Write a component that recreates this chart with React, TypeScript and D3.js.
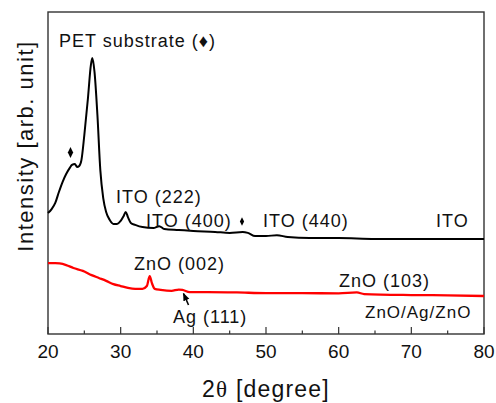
import React from 'react';
import * as d3 from 'd3';

// XRD patterns (2theta in degrees, intensity in arb. units 0-100)
const itoAngles = [20, 20.5, 21, 21.5, 22, 22.5, 23, 23.3, 23.7, 24, 24.3, 24.6, 25, 25.5, 25.9, 26.1, 26.4, 26.8, 27.2, 27.6, 28, 28.5, 29, 29.5, 30, 30.4, 30.7, 31, 31.4, 32, 33, 34.5, 35.3, 36, 38, 40, 43, 45, 46.8, 47.5, 48.5, 50, 51.5, 53, 56, 60, 65, 70, 75, 80];
const itoIntensity = [37.6, 38.8, 40.7, 44.1, 47.2, 49.7, 51.6, 52.5, 52.8, 51.9, 52.2, 54.0, 61.8, 73.3, 83.5, 85.7, 81.4, 68.0, 50.9, 42.2, 37.9, 35.4, 34.2, 34.2, 35.1, 36.6, 37.9, 36.3, 34.5, 33.9, 33.2, 32.9, 33.5, 32.6, 32.3, 32.0, 31.7, 31.4, 31.7, 31.4, 30.4, 30.4, 30.7, 30.1, 29.8, 29.8, 29.5, 29.5, 29.5, 29.5];

const zaoAngles = [20, 21, 21.6, 22.5, 23.5, 24.8, 26, 27, 28, 29, 30, 31, 32, 33, 33.6, 34.0, 34.3, 34.7, 35.5, 37, 38, 38.5, 39.5, 42, 46, 50, 55, 60, 62.5, 63.5, 70, 75, 80];
const zaoIntensity = [22.0, 22.0, 21.9, 21.4, 20.5, 19.6, 18.3, 17.4, 16.5, 15.5, 14.9, 14.3, 14.0, 14.0, 14.9, 18.0, 15.8, 14.0, 13.7, 13.4, 13.8, 13.7, 13.0, 13.0, 12.9, 12.7, 12.7, 12.6, 12.9, 12.4, 12.1, 12.0, 11.8];

const majorTicks = [20, 30, 40, 50, 60, 70, 80];
const minorTicks = [25, 35, 45, 55, 65, 75];

const W = 496;
const H = 403;
const margin = { left: 48, right: 12, top: 12, bottom: 69 };
const font = 'Arial, "Liberation Sans", Helvetica, sans-serif';

const App = () => {
  const x = d3.scaleLinear().domain([20, 80]).range([margin.left, W - margin.right]);
  const y = d3.scaleLinear().domain([0, 100]).range([H - margin.bottom, margin.top]);

  const line = d3.line<[number, number]>()
    .x(d => x(d[0]))
    .y(d => y(d[1]))
    .curve(d3.curveMonotoneX);

  const ito = itoAngles.map((a, i) => [a, itoIntensity[i]] as [number, number]);
  const zao = zaoAngles.map((a, i) => [a, zaoIntensity[i]] as [number, number]);

  const bottom = H - margin.bottom;
  const diamond = d3.symbol().type(d3.symbolDiamond);

  return (
    <svg width={W} height={H} style={{ position: 'absolute', left: 0, top: 0, background: '#fff' }}>
      <defs>
        <marker id="arrow" viewBox="0 0 10 10" refX="9" refY="5" markerWidth="5" markerHeight="5" orient="auto">
          <path d="M0,1 L10,5 L0,9 z" fill="#000" />
        </marker>
      </defs>

      {/* frame */}
      <rect x={margin.left} y={margin.top} width={W - margin.left - margin.right} height={bottom - margin.top}
        fill="none" stroke="#333" strokeWidth={1.4} />

      {/* inward ticks on bottom axis */}
      {majorTicks.map(t => (
        <line key={'M' + t} x1={x(t)} x2={x(t)} y1={bottom} y2={bottom - 7} stroke="#333" strokeWidth={1.2} />
      ))}
      {minorTicks.map(t => (
        <line key={'m' + t} x1={x(t)} x2={x(t)} y1={bottom} y2={bottom - 3.5} stroke="#333" strokeWidth={1.2} />
      ))}
      {majorTicks.map(t => (
        <text key={'l' + t} x={x(t)} y={358} textAnchor="middle" fontFamily={font} fontSize={19} fill="#111">{t}</text>
      ))}

      {/* curves */}
      <path d={line(ito) || ''} fill="none" stroke="#000" strokeWidth={2} />
      <path d={line(zao) || ''} fill="none" stroke="#ff0000" strokeWidth={2.3} />

      {/* annotations */}
      <g fontFamily={font} fontSize={18} fill="#111" letterSpacing={1}>
        <text x={59} y={47}>PET substrate (♦)</text>
        <text x={116} y={203}>ITO (222)</text>
        <text x={146} y={227}>ITO (400)</text>
        <text x={263} y={227}>ITO (440)</text>
        <text x={436} y={227}>ITO</text>
        <text x={134} y={270}>ZnO (002)</text>
        <text x={173} y={323}>Ag (111)</text>
        <text x={339} y={287}>ZnO (103)</text>
        <text x={365} y={318} fontSize={17}>ZnO/Ag/ZnO</text>
      </g>
      <path d={d3.symbol().type(d3.symbolDiamond).size(34)() || ''} transform="translate(70.5,152.5) scale(0.85,1)" fill="#000" />
      <path d={diamond.size(22)() || ''} transform="translate(242,221.5) scale(0.85,1)" fill="#000" />
      <line x1={188.5} y1={305} x2={183.5} y2={293.5} stroke="#000" strokeWidth={1.6} markerEnd="url(#arrow)" />

      {/* axis titles */}
      <text x={(margin.left + W - margin.right) / 2} y={397} textAnchor="middle" fontFamily={font} fontSize={23} fill="#111" letterSpacing={1.2}>
        2<tspan fontFamily='"Liberation Serif", "Times New Roman", serif'>θ</tspan> [degree]
      </text>
      <text transform="translate(33,146) rotate(-90)" textAnchor="middle" fontFamily={font} fontSize={22} fill="#111" letterSpacing={1.5}>
        Intensity [arb. unit]
      </text>
    </svg>
  );
};

export default App;
